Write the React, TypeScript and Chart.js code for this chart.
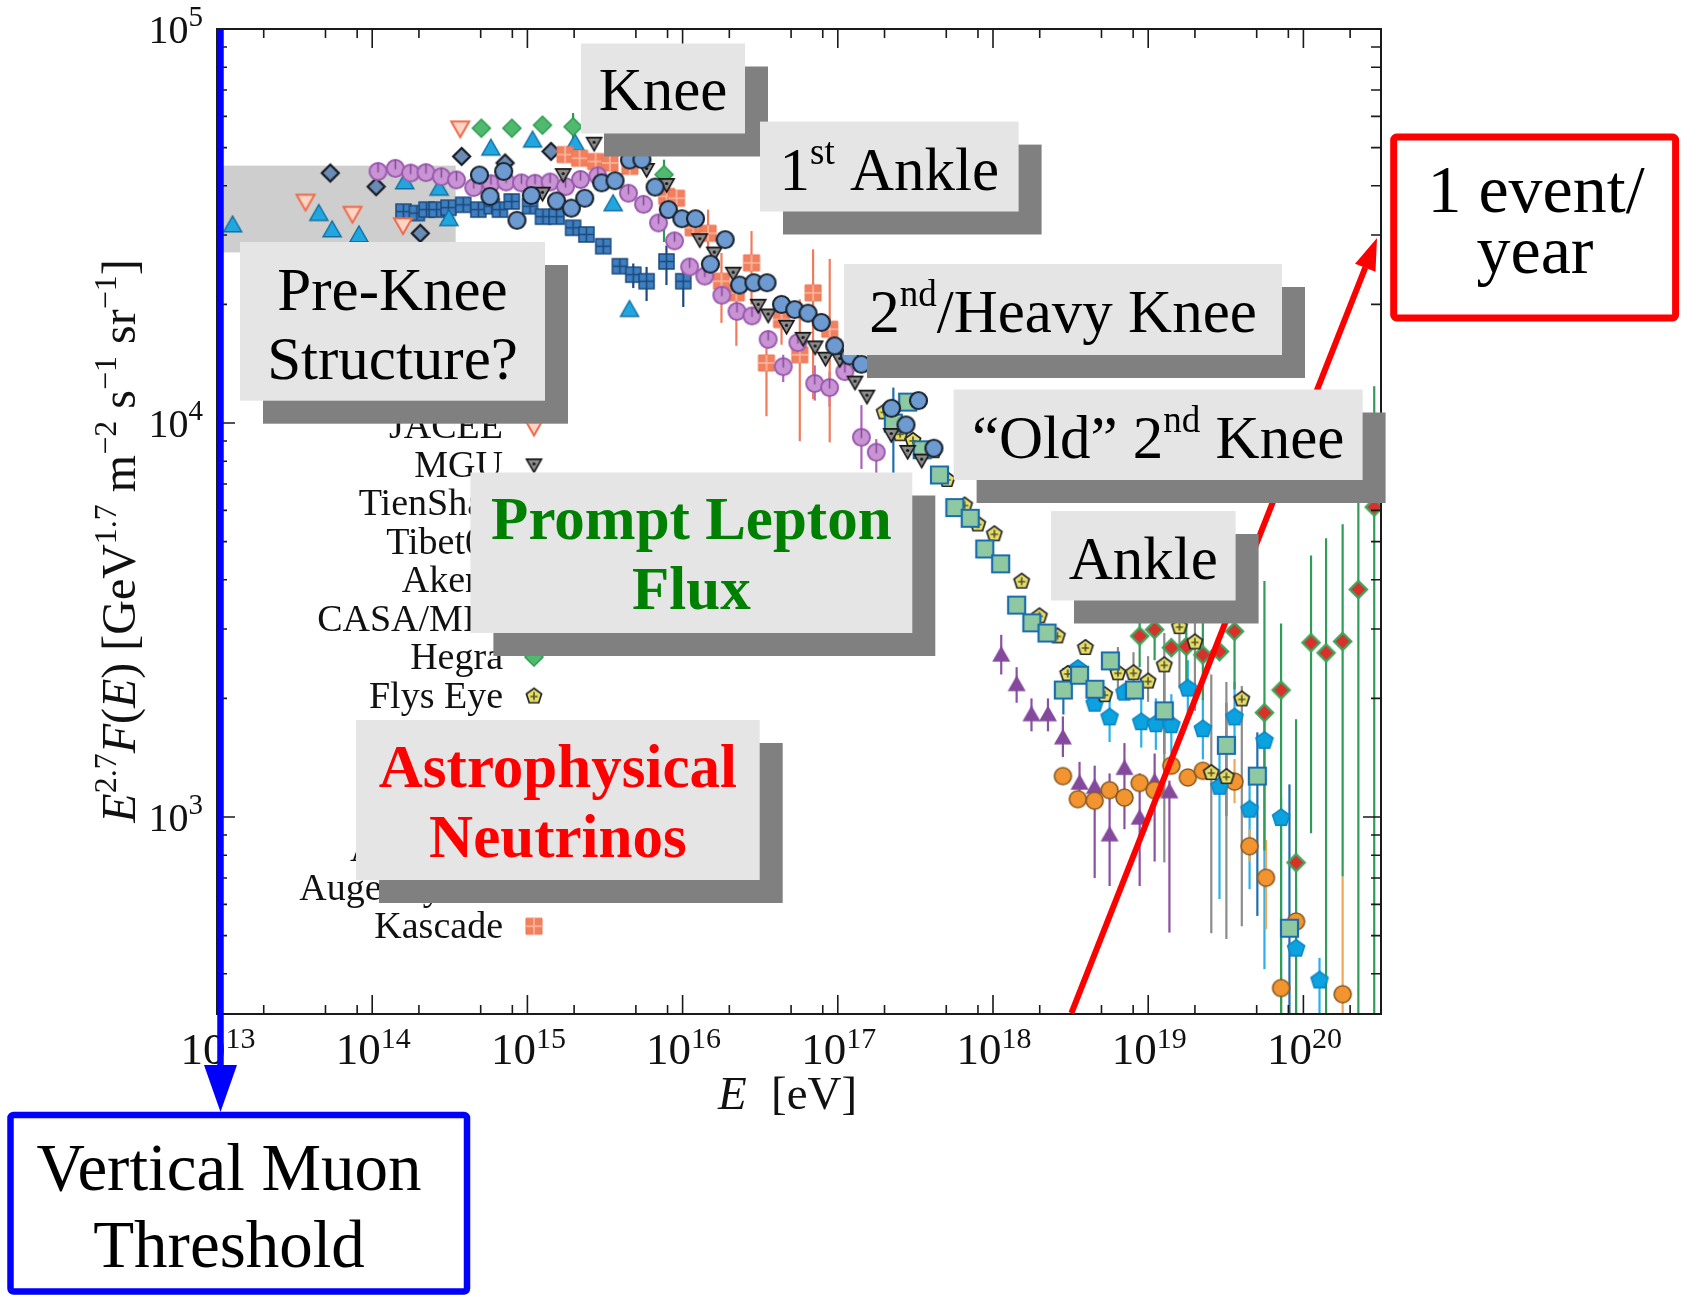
import React, { useEffect, useRef } from 'react';
import { Chart, registerables } from 'chart.js';

Chart.register(...registerables);

const WIDTH = 1689;
const HEIGHT = 1295;
const SERIF = '"Liberation Serif", "Times New Roman", serif';

// Axis ranges: E in eV, flux in GeV^1.7 m^-2 s^-1 sr^-1
const E_MIN = 1e13;
const E_MAX = 3.1623e20;
const F_MIN = 316.23;
const F_MAX = 1e5;
const X_DECADES = [13, 14, 15, 16, 17, 18, 19, 20];
const Y_DECADES = [3, 4, 5];

// Shaded pre-knee region and the 1 event/year guide
const BAND_E = [1e13, 3.45e14];
const BAND_F = [27100, 45000];
const GUIDE_E = [3.2e18, 2.98e20];
const GUIDE_F = [318, 29500];

// ---------------- measurements ----------------
const grigorovE = [1.26e13, 4.53e13, 5.52e13, 8.22e13, 1.62e14, 2.7e14, 3.12e14, 5.82e14, 1.08e15, 2.03e15, 3.57e15, 4.55e15];
const grigorovF = [31800, 34000, 30900, 30000, 40900, 39400, 33000, 49800, 52200, 51300, 36000, 19400];

const jaceeE = [3.72e13, 7.46e13, 1.58e14, 3.69e14];
const jaceeF = [36500, 34000, 31800, 56000];

const mguE = [1.25e15, 1.7e15, 2.69e15, 5.86e15, 7.89e15, 1.29e16, 1.6e16, 2.12e16, 3.07e16, 3.56e16, 4.67e16, 5.97e16, 7.14e16, 8.32e16, 1.03e17, 1.29e17, 1.54e17, 2.21e17, 2.82e17, 3.47e17];
const mguF = [38300, 42700, 51300, 44000, 40300, 29200, 27000, 24000, 19900, 18800, 17600, 16400, 15600, 14600, 14500, 12700, 11700, 9350, 8470, 8050];

const tienShanE = [4.91e14, 5.74e14, 7.03e14, 8.57e14, 1.06e15, 1.54e15, 1.92e15, 2.34e15, 3.01e15, 3.67e15, 4.55e15, 5.47e15, 6.65e15, 8.09e15, 9.89e15, 1.21e16, 1.51e16, 1.88e16, 2.33e16, 2.88e16, 3.5e16, 4.34e16, 5.28e16, 6.43e16, 7.83e16, 9.55e16, 1.19e17, 1.42e17, 2.22e17, 2.75e17, 3.31e17, 4.16e17];
const tienShanF = [42600, 37600, 43500, 32700, 37800, 36600, 35100, 37200, 40700, 41200, 46500, 46600, 39700, 34800, 33000, 33000, 25300, 29200, 22400, 22700, 22700, 20000, 19400, 19000, 18000, 15700, 14800, 14100, 10900, 9890, 11400, 8630];

const tibet07E = [1.09e14, 1.41e14, 1.77e14, 2.22e14, 2.79e14, 3.49e14, 4.51e14, 5.82e14, 7.29e14, 9.16e14, 1.12e15, 1.4e15, 1.76e15, 2.2e15, 2.84e15, 4.48e15, 5.6e15, 7.0e15, 8.87e15, 1.11e16, 1.39e16, 1.79e16, 2.24e16, 2.8e16, 3.56e16, 4.45e16, 5.53e16, 7.1e16, 8.85e16, 1.11e17, 1.42e17, 1.77e17];
const tibet07F = [43500, 44300, 43100, 43200, 42200, 41400, 39600, 40500, 40900, 40700, 40600, 40900, 39800, 41500, 42400, 38300, 35900, 32200, 29000, 24900, 23600, 21100, 19200, 18700, 16300, 13900, 16000, 12600, 12300, 13500, 9200, 8430];
const tibet07Err = [[4.45e16, 12700, 14900], [7.1e16, 11400, 14000], [8.85e16, 11000, 13500], [1.42e17, 7640, 11100], [1.77e17, 7000, 9100]];

const akenoE = [5.37e13, 1.06e14, 2.04e14, 3.77e14, 7.18e14, 1.42e15];
const akenoF = [43100, 39800, 30300, 47500, 45700, 48900];

const casaMiaE = [1.59e14, 1.94e14, 2.24e14, 2.6e14, 3.1e14, 3.86e14, 4.83e14, 5.89e14, 6.65e14, 7.93e14, 1.04e15, 1.26e15, 1.54e15, 1.97e15, 2.4e15, 3.08e15, 3.94e15, 4.81e15, 5.86e15, 7.87e15, 1.01e16];
const casaMiaF = [34400, 34100, 34800, 34800, 35200, 35800, 34800, 35500, 34800, 36500, 35500, 33400, 33400, 31300, 30100, 28100, 25000, 23800, 22900, 25700, 22900];
const casaMiaErr = [[4.81e15, 22000, 25400], [5.86e15, 20400, 24900], [7.87e15, 22400, 28200], [1.01e16, 19700, 24600]];

const hegraE = [5.05e14, 7.94e14, 1.25e15, 1.97e15, 7.59e15];
const hegraF = [56000, 56000, 57000, 56500, 42700];
const hegraErr = [[1.97e15, 52400, 61200], [7.59e15, 28800, 46600]];

const flysEyeE = [1.99e17, 2.52e17, 3.05e17, 4.16e17, 5.06e17, 6.56e17, 7.98e17, 1.02e18, 1.53e18, 1.99e18, 2.6e18, 3.03e18, 3.94e18, 5.24e18, 6.38e18, 8.04e18, 9.98e18, 1.27e19, 1.59e19, 2.0e19, 2.55e19, 3.19e19, 4.01e19];
const flysEyeF = [10700, 9420, 9060, 8530, 7210, 6210, 5560, 5250, 3980, 3250, 2890, 2320, 2700, 2050, 2330, 2330, 2220, 2440, 3050, 2790, 1300, 1270, 2000];
const flysEyeErr = [[6.38e18, 1990, 2700], [8.04e18, 1980, 2620], [9.98e18, 1960, 2560], [1.27e19, 767, 2930], [1.59e19, 2120, 3500], [2.0e19, 1860, 3490], [2.55e19, 507, 2300], [3.19e19, 490, 2200], [4.01e19, 528, 2150]];

const agasaE = [8.81e18, 1.1e19, 1.41e19, 1.76e19, 2.25e19, 2.88e19, 3.6e19, 5.61e19, 7.18e19, 8.97e19, 1.12e20, 1.4e20, 1.79e20, 2.26e20, 2.86e20];
const agasaF = [2880, 2990, 2690, 2710, 2580, 2630, 2960, 1840, 2100, 766, 2770, 2610, 2790, 3780, 6120];
const agasaErr = [[8.81e18, 2400, 3390], [1.1e19, 2500, 3500], [1.76e19, 2110, 3280], [2.25e19, 1980, 3180], [3.6e19, 2110, 3840], [5.61e19, 822, 3970], [7.18e19, 280, 3100], [8.97e19, 280, 1770], [1.12e20, 909, 4610], [1.4e20, 280, 5100], [1.79e20, 706, 5530], [2.26e20, 280, 7680], [2.86e20, 280, 12390]];

const hires1E = [3.52e18, 4.52e18, 5.64e18, 7.03e18, 9.02e18, 1.12e19, 1.41e19, 1.8e19, 2.25e19, 2.88e19, 3.6e19, 4.5e19, 5.61e19, 7.18e19, 8.97e19, 1.27e20];
const hires1F = [2390, 1950, 1800, 2080, 1750, 1730, 1720, 2130, 1680, 1200, 1800, 1050, 1570, 1000, 466, 387];
const hires1Err = [[5.64e18, 1550, 2050], [9.02e18, 1500, 2000], [1.12e19, 1480, 2000], [1.41e19, 1450, 2050], [1.8e19, 1800, 2500], [2.25e19, 1400, 2000], [2.88e19, 619, 1445], [3.6e19, 1500, 2200], [4.5e19, 656, 1239], [5.61e19, 411, 1754], [7.18e19, 280, 1125], [8.97e19, 280, 571], [1.27e20, 280, 439]];

const hires2E = [2.28e17, 2.82e17, 3.5e17, 4.52e17, 5.68e17, 7.13e17, 8.85e17, 1.12e18, 1.42e18, 1.78e18, 2.23e18, 2.84e18, 3.61e18, 4.54e18, 5.71e18, 8.15e18, 1.27e19, 3.19e19, 5.05e19, 8.13e19];
const hires2F = [10000, 11300, 8550, 7380, 6100, 5730, 4790, 4390, 3450, 3110, 2930, 2100, 2290, 2110, 2490, 2100, 1860, 1520, 1270, 522];
const hires2Err = [[2.28e17, 7430, 12300], [2.84e18, 1820, 2390], [1.27e19, 1445, 2370], [3.19e19, 1007, 1950], [5.05e19, 561, 1640], [8.13e19, 280, 1210]];

const augerSdE = [2.82e18, 3.52e18, 4.52e18, 5.64e18, 7.03e18, 8.81e18, 1.1e19, 1.41e19, 1.8e19, 2.25e19, 3.6e19, 4.5e19, 5.74e19, 7.18e19, 8.97e19, 1.79e20];
const augerSdF = [1270, 1110, 1100, 1170, 1120, 1220, 1170, 1350, 1260, 1310, 1230, 843, 701, 368, 543, 355];
const augerSdErr = [[3.6e19, 1084, 1403], [4.5e19, 771, 931], [5.74e19, 519, 875], [7.18e19, 280, 411], [8.97e19, 440, 660], [1.79e20, 280, 706]];

const augerHybridE = [1.13e18, 1.42e18, 1.77e18, 2.26e18, 2.82e18, 3.61e18, 4.52e18, 5.64e18, 7.03e18, 8.81e18, 1.1e19, 1.37e19];
const augerHybridF = [2580, 2170, 1820, 1820, 1590, 1220, 1190, 902, 1330, 995, 1230, 1160];
const augerHybridErr = [[1.13e18, 2300, 2900], [1.42e18, 1950, 2400], [1.77e18, 1650, 2000], [2.26e18, 1650, 2000], [2.82e18, 1420, 1800], [3.61e18, 1080, 1380], [4.52e18, 700, 1350], [5.64e18, 668, 1290], [7.03e18, 931, 1540], [8.81e18, 668, 1290], [1.1e19, 771, 1449], [1.37e19, 509, 1237]];

const kascadeE = [1.75e15, 2.17e15, 2.75e15, 3.4e15, 4.57e15, 7.89e15, 9.14e15, 1.17e16, 1.46e16, 1.78e16, 2.22e16, 2.78e16, 3.47e16, 4.34e16, 5.69e16, 6.93e16, 8.87e16];
const kascadeF = [48000, 47000, 46100, 45700, 44800, 37600, 37200, 31300, 30300, 22900, 21400, 25500, 14200, 18300, 14900, 21400, 17300];
const kascadeErr = [[1.46e16, 27500, 34800], [1.78e16, 17950, 27000], [2.22e16, 15700, 23500], [2.78e16, 20000, 30700], [3.47e16, 10400, 17000], [4.34e16, 15800, 20400], [5.69e16, 8990, 20600], [6.93e16, 11500, 27600], [8.87e16, 8930, 26100]];

const LEGEND_NAMES = ['Grigorov', 'JACEE', 'MGU', 'TienShan', 'Tibet07', 'Akeno', 'CASA/MIA', 'Hegra', 'Flys Eye', 'Agasa', 'HiRes 1', 'HiRes 2', 'Auger SD', 'Auger hybrid', 'Kascade'];

// ---------------- drawing helpers ----------------
type Run = { t: string; sup?: boolean; it?: boolean };

function drawRuns(ctx: CanvasRenderingContext2D, runs: Run[], x: number, y: number, size: number,
  align: string, color: string, bold = false, supScale = 0.62, supRaise = 0.4) {
  const fontFor = (r: Run) => `${r.it ? 'italic ' : ''}${bold ? 'bold ' : ''}${r.sup ? Math.round(size * supScale) : size}px ${SERIF}`;
  let total = 0;
  const widths = runs.map((r) => {
    ctx.font = fontFor(r);
    const w = ctx.measureText(r.t).width;
    total += w;
    return w;
  });
  let cx = align === 'center' ? x - total / 2 : align === 'right' ? x - total : x;
  ctx.fillStyle = color;
  ctx.textAlign = 'left';
  ctx.textBaseline = 'alphabetic';
  runs.forEach((r, i) => {
    ctx.font = fontFor(r);
    ctx.fillText(r.t, cx, r.sup ? y - size * supRaise : y);
    cx += widths[i];
  });
}

function makeMarker(kind: string, size: number, fill: string, stroke: string, lw: number, inner?: string, innerColor?: string) {
  const pad = Math.ceil(lw) + 2;
  const dim = Math.ceil(size + 2 * pad);
  const c = document.createElement('canvas');
  c.width = dim;
  c.height = dim;
  const g = c.getContext('2d') as CanvasRenderingContext2D;
  const m = dim / 2;
  const r = size / 2;
  g.beginPath();
  if (kind === 'circle') g.arc(m, m, r, 0, Math.PI * 2);
  if (kind === 'square') g.rect(m - r, m - r, size, size);
  if (kind === 'triUp') { g.moveTo(m, m - r); g.lineTo(m + r, m + r * 0.75); g.lineTo(m - r, m + r * 0.75); g.closePath(); }
  if (kind === 'triDown') { g.moveTo(m, m + r); g.lineTo(m + r, m - r * 0.75); g.lineTo(m - r, m - r * 0.75); g.closePath(); }
  if (kind === 'diamond') { g.moveTo(m, m - r); g.lineTo(m + r, m); g.lineTo(m, m + r); g.lineTo(m - r, m); g.closePath(); }
  if (kind === 'pentagon') {
    for (let k = 0; k < 5; k++) {
      const a = -Math.PI / 2 + (k * 2 * Math.PI) / 5;
      const px = m + r * Math.cos(a);
      const py = m + r * Math.sin(a) + r * 0.1;
      if (k === 0) g.moveTo(px, py); else g.lineTo(px, py);
    }
    g.closePath();
  }
  g.fillStyle = fill;
  g.fill();
  if (lw > 0) {
    g.strokeStyle = stroke;
    g.lineWidth = lw;
    g.stroke();
  }
  g.strokeStyle = innerColor || stroke;
  g.fillStyle = innerColor || stroke;
  g.lineWidth = 1.6;
  if (inner === 'tick') { g.beginPath(); g.moveTo(m, m - r); g.lineTo(m, m + 1); g.stroke(); }
  if (inner === 'cross') {
    g.beginPath(); g.moveTo(m, m - r); g.lineTo(m, m + r); g.moveTo(m - r, m); g.lineTo(m + r, m); g.stroke();
  }
  if (inner === 'dot') { g.beginPath(); g.arc(m, m - 1, 1.6, 0, Math.PI * 2); g.fill(); }
  if (inner === 'flys') {
    g.beginPath(); g.moveTo(m, m - r * 0.45); g.lineTo(m, m + r * 0.55); g.moveTo(m - r * 0.45, m + 1); g.lineTo(m + r * 0.45, m + 1); g.stroke();
  }
  return c;
}

// Labelled boxes with a drop shadow (pixel layout)
const SHADOW = 23;
const LABEL_BOXES = [
  { x0: 581, y0: 43.5, x1: 745, y1: 133.5, lines: [[{ t: 'Knee' }]], base: [110], color: '#000', bold: false },
  { x0: 760, y0: 121.6, x1: 1018.6, y1: 211.5, lines: [[{ t: '1' }, { t: 'st', sup: true }, { t: ' Ankle' }]], base: [189.5], color: '#000', bold: false },
  { x0: 240, y0: 242, x1: 545, y1: 400.7, lines: [[{ t: 'Pre-Knee' }], [{ t: 'Structure?' }]], base: [310, 379], color: '#000', bold: false },
  { x0: 844, y0: 264, x1: 1282, y1: 355, lines: [[{ t: '2' }, { t: 'nd', sup: true }, { t: '/Heavy Knee' }]], base: [331.5], color: '#000', bold: false },
  { x0: 953.6, y0: 389.5, x1: 1362.6, y1: 480, lines: [[{ t: '\u201COld\u201D 2' }, { t: 'nd', sup: true }, { t: ' Knee' }]], base: [457.5], color: '#000', bold: false },
  { x0: 1051, y0: 511, x1: 1235.6, y1: 600.5, lines: [[{ t: 'Ankle' }]], base: [578.5], color: '#000', bold: false },
  { x0: 470.4, y0: 472.5, x1: 912.3, y1: 633, lines: [[{ t: 'Prompt Lepton' }], [{ t: 'Flux' }]], base: [538.5, 608.5], color: '#008000', bold: true },
  { x0: 356, y0: 720, x1: 759.7, y1: 880, lines: [[{ t: 'Astrophysical' }], [{ t: 'Neutrinos' }]], base: [787, 856.5], color: '#ff0000', bold: true },
];

export default function App() {
  const ref = useRef<HTMLCanvasElement>(null);

  useEffect(() => {
    const canvas = ref.current;
    if (!canvas) return;

    const mk = {
      grigorov: makeMarker('triUp', 18, '#21a7df', '#136fa3', 1.5),
      jacee: makeMarker('triDown', 18, '#fcd5c6', '#f06a4a', 2),
      mgu: makeMarker('triDown', 15, '#8d8d8d', '#151515', 1.6, 'dot', '#151515'),
      tienShan: makeMarker('circle', 17, '#6d9bd1', '#1c2530', 2.2),
      tibet07: makeMarker('circle', 17, '#c994d4', '#9c5bb0', 2, 'tick', '#8a4a9e'),
      akeno: makeMarker('diamond', 17, '#6a8cb4', '#171b24', 2.2),
      casaMia: makeMarker('square', 15, '#3f7fbf', '#1b4a7e', 1.5, 'cross', '#1b4a7e'),
      hegra: makeMarker('diamond', 18, '#4fba6e', '#2f9a52', 1.5),
      flysEye: makeMarker('pentagon', 16, '#e6df6b', '#262626', 1.7, 'flys', '#5a5420'),
      agasa: makeMarker('diamond', 17, '#d8312c', '#3ea55c', 2.4),
      hires1: makeMarker('pentagon', 18, '#0aa2df', '#0c84c4', 1.5),
      hires2: makeMarker('square', 17, '#8fc9a2', '#1b6dad', 2.2),
      augerSd: makeMarker('circle', 17, '#f2942f', '#8a5a22', 1.6),
      augerHybrid: makeMarker('triUp', 18, '#84489c', '#84489c', 0),
      kascade: makeMarker('square', 16, '#f2805f', '#ef7453', 1, 'cross', '#f9b9a2'),
    };
    const legendMarkers = [mk.grigorov, mk.jacee, mk.mgu, mk.tienShan, mk.tibet07, mk.akeno, mk.casaMia, mk.hegra,
      mk.flysEye, mk.agasa, mk.hires1, mk.hires2, mk.augerSd, mk.augerHybrid, mk.kascade];

    // First entry is painted last (on top)
    const series = [
      { label: 'TienShan', E: tienShanE, F: tienShanF, m: mk.tienShan, err: null, ec: '' },
      { label: 'MGU', E: mguE, F: mguF, m: mk.mgu, err: null, ec: '' },
      { label: 'HiRes 2', E: hires2E, F: hires2F, m: mk.hires2, err: hires2Err, ec: '#1f6fad' },
      { label: 'Flys Eye', E: flysEyeE, F: flysEyeF, m: mk.flysEye, err: flysEyeErr, ec: '#8c8c8c' },
      { label: 'HiRes 1', E: hires1E, F: hires1F, m: mk.hires1, err: hires1Err, ec: '#2bb0ea' },
      { label: 'Auger SD', E: augerSdE, F: augerSdF, m: mk.augerSd, err: augerSdErr, ec: '#f0a75a' },
      { label: 'Agasa', E: agasaE, F: agasaF, m: mk.agasa, err: agasaErr, ec: '#2f9d58' },
      { label: 'Auger hybrid', E: augerHybridE, F: augerHybridF, m: mk.augerHybrid, err: augerHybridErr, ec: '#8a50a2' },
      { label: 'Tibet07', E: tibet07E, F: tibet07F, m: mk.tibet07, err: tibet07Err, ec: '#a866b9' },
      { label: 'Kascade', E: kascadeE, F: kascadeF, m: mk.kascade, err: kascadeErr, ec: '#ef7d5d' },
      { label: 'Hegra', E: hegraE, F: hegraF, m: mk.hegra, err: hegraErr, ec: '#2f9a52' },
      { label: 'Grigorov', E: grigorovE, F: grigorovF, m: mk.grigorov, err: null, ec: '' },
      { label: 'Akeno', E: akenoE, F: akenoF, m: mk.akeno, err: null, ec: '' },
      { label: 'JACEE', E: jaceeE, F: jaceeF, m: mk.jacee, err: null, ec: '' },
      { label: 'CASA/MIA', E: casaMiaE, F: casaMiaF, m: mk.casaMia, err: casaMiaErr, ec: '#1b4a7e' },
    ];

    const datasets: any[] = series.map((s) => ({
      label: s.label,
      data: s.E.map((e, i) => ({ x: e, y: s.F[i] })),
      pointStyle: s.m,
      pointRadius: 8,
      showLine: false,
      errBars: s.err,
      errColor: s.ec,
    }));

    const overlay = {
      id: 'overlay',
      beforeDatasetsDraw(chart: any) {
        const { ctx, chartArea: a } = chart;
        const x = chart.scales.x;
        const y = chart.scales.y;
        ctx.save();
        ctx.beginPath();
        ctx.rect(a.left, a.top, a.right - a.left, a.bottom - a.top);
        ctx.clip();
        // shaded band
        const bx0 = x.getPixelForValue(BAND_E[0]);
        const bx1 = x.getPixelForValue(BAND_E[1]);
        const by0 = y.getPixelForValue(BAND_F[1]);
        const by1 = y.getPixelForValue(BAND_F[0]);
        ctx.fillStyle = '#cecece';
        ctx.fillRect(bx0, by0, bx1 - bx0, by1 - by0);
        // error bars
        chart.data.datasets.forEach((ds: any) => {
          if (!ds.errBars) return;
          ctx.strokeStyle = ds.errColor;
          ctx.lineWidth = 2.2;
          ds.errBars.forEach((b: number[]) => {
            const px = x.getPixelForValue(b[0]);
            ctx.beginPath();
            ctx.moveTo(px, y.getPixelForValue(b[1]));
            ctx.lineTo(px, y.getPixelForValue(b[2]));
            ctx.stroke();
          });
        });
        ctx.restore();
      },
      afterDatasetsDraw(chart: any) {
        const { ctx, chartArea: a } = chart;
        const x = chart.scales.x;
        const y = chart.scales.y;
        ctx.save();

        // frame
        ctx.strokeStyle = '#1a1a1a';
        ctx.lineWidth = 2;
        ctx.strokeRect(a.left, a.top, a.right - a.left, a.bottom - a.top);

        // ticks
        ctx.lineWidth = 1.6;
        ctx.beginPath();
        X_DECADES.forEach((n) => {
          [1, 2, 5, 8].forEach((mult) => {
            const v = mult * Math.pow(10, n);
            if (v <= E_MIN || v >= E_MAX) return;
            const px = x.getPixelForValue(v);
            const len = mult === 1 ? 19 : 9;
            ctx.moveTo(px, a.bottom); ctx.lineTo(px, a.bottom - len);
            ctx.moveTo(px, a.top); ctx.lineTo(px, a.top + len);
          });
        });
        [2, 3, 4].forEach((n) => {
          for (let mult = 1; mult <= 9; mult++) {
            const v = mult * Math.pow(10, n);
            if (v <= F_MIN || v >= F_MAX) continue;
            const py = y.getPixelForValue(v);
            const len = mult === 1 ? 18 : 10;
            ctx.moveTo(a.left, py); ctx.lineTo(a.left + len, py);
            ctx.moveTo(a.right, py); ctx.lineTo(a.right - len, py);
          }
        });
        ctx.stroke();

        // tick labels
        X_DECADES.forEach((n) => {
          const px = x.getPixelForValue(Math.pow(10, n));
          drawRuns(ctx, [{ t: '10' }, { t: String(n), sup: true }], px + 1, 1064, 45, 'center', '#111', false, 0.67, 0.35);
        });
        Y_DECADES.forEach((n) => {
          const py = y.getPixelForValue(Math.pow(10, n));
          drawRuns(ctx, [{ t: '10' }, { t: String(n), sup: true }], 203, py + 14, 40, 'right', '#111', false, 0.72, 0.42);
        });

        // axis titles
        drawRuns(ctx, [{ t: 'E', it: true }], 718, 1109, 47, 'left', '#111');
        drawRuns(ctx, [{ t: '[eV]' }], 771, 1109, 47, 'left', '#111');
        ctx.save();
        ctx.translate(135, 541);
        ctx.rotate(-Math.PI / 2);
        drawRuns(ctx, [
          { t: 'E', it: true }, { t: '2.7', sup: true }, { t: 'F', it: true }, { t: '(' }, { t: 'E', it: true }, { t: ')' },
          { t: ' [GeV' }, { t: '1.7', sup: true }, { t: ' m' }, { t: '\u22122', sup: true }, { t: ' s' }, { t: '\u22121', sup: true },
          { t: ' sr' }, { t: '\u22121', sup: true }, { t: ']' },
        ], 0, 0, 48, 'center', '#111', false, 0.66, 0.4);
        ctx.restore();

        // legend column
        LEGEND_NAMES.forEach((name, i) => {
          const base = 438.4 + 38.45 * (i - 1);
          drawRuns(ctx, [{ t: name }], 503, base, 38, 'right', '#111');
          const mcv = legendMarkers[i];
          ctx.drawImage(mcv, 534 - mcv.width / 2, base - 12 - mcv.height / 2);
        });

        // 1 event/year guide with arrow head
        const gx0 = x.getPixelForValue(GUIDE_E[0]);
        const gy0 = y.getPixelForValue(GUIDE_F[0]);
        const gx1 = x.getPixelForValue(GUIDE_E[1]);
        const gy1 = y.getPixelForValue(GUIDE_F[1]);
        const ang = Math.atan2(gy1 - gy0, gx1 - gx0);
        const headLen = 32;
        const headW = 11;
        const bx = gx1 - headLen * Math.cos(ang);
        const by = gy1 - headLen * Math.sin(ang);
        ctx.strokeStyle = '#ff0000';
        ctx.fillStyle = '#ff0000';
        ctx.lineWidth = 6;
        ctx.lineCap = 'butt';
        ctx.beginPath();
        ctx.moveTo(gx0, gy0);
        ctx.lineTo(bx, by);
        ctx.stroke();
        ctx.beginPath();
        ctx.moveTo(gx1, gy1);
        ctx.lineTo(bx + headW * Math.sin(ang), by - headW * Math.cos(ang));
        ctx.lineTo(bx - headW * Math.sin(ang), by + headW * Math.cos(ang));
        ctx.closePath();
        ctx.fill();

        // labelled boxes
        LABEL_BOXES.forEach((b) => {
          ctx.fillStyle = '#808080';
          ctx.fillRect(b.x0 + SHADOW, b.y0 + SHADOW, b.x1 - b.x0, b.y1 - b.y0);
          ctx.fillStyle = '#e5e5e5';
          ctx.fillRect(b.x0, b.y0, b.x1 - b.x0, b.y1 - b.y0);
          const cx = (b.x0 + b.x1) / 2;
          b.lines.forEach((ln: Run[], i: number) => {
            drawRuns(ctx, ln, cx, b.base[i], 61, 'center', b.color, b.bold, 0.6, 0.42);
          });
        });

        // vertical muon threshold arrow
        const ax = 220.5;
        ctx.strokeStyle = '#0000ff';
        ctx.fillStyle = '#0000ff';
        ctx.lineWidth = 6.5;
        ctx.beginPath();
        ctx.moveTo(ax, a.top);
        ctx.lineTo(ax, 1068);
        ctx.stroke();
        ctx.beginPath();
        ctx.moveTo(ax - 16.5, 1065);
        ctx.lineTo(ax + 16.5, 1065);
        ctx.lineTo(ax, 1112);
        ctx.closePath();
        ctx.fill();

        // threshold box
        ctx.lineWidth = 6.5;
        ctx.strokeStyle = '#0000ff';
        ctx.beginPath();
        ctx.roundRect(10.5, 1115, 456.5, 176.5, 3);
        ctx.stroke();
        drawRuns(ctx, [{ t: 'Vertical Muon' }], 229, 1190, 67, 'center', '#000');
        drawRuns(ctx, [{ t: 'Threshold' }], 229, 1267, 67, 'center', '#000');

        // event-rate box
        ctx.lineWidth = 7;
        ctx.strokeStyle = '#ff0000';
        ctx.beginPath();
        ctx.roundRect(1393.7, 137, 281.9, 181, 3);
        ctx.stroke();
        drawRuns(ctx, [{ t: '1 event/' }], 1536, 212, 68, 'center', '#000');
        drawRuns(ctx, [{ t: 'year' }], 1535, 273, 68, 'center', '#000');

        ctx.restore();
      },
    };

    const chart = new Chart(canvas, {
      type: 'scatter',
      data: { datasets },
      options: {
        responsive: false,
        animation: false,
        events: [],
        layout: { padding: { left: 217, top: 29, right: WIDTH - 1381, bottom: HEIGHT - 1014 } },
        scales: {
          x: { type: 'logarithmic', min: E_MIN, max: E_MAX, bounds: 'data', display: false },
          y: { type: 'logarithmic', min: F_MIN, max: F_MAX, bounds: 'data', display: false },
        },
        plugins: { legend: { display: false }, tooltip: { enabled: false } },
      },
      plugins: [overlay],
    } as any);

    return () => chart.destroy();
  }, []);

  return (
    <div style={{ position: 'absolute', left: 0, top: 0, width: WIDTH, height: HEIGHT, background: '#ffffff' }}>
      <canvas ref={ref} width={WIDTH} height={HEIGHT} style={{ display: 'block', width: WIDTH, height: HEIGHT }} />
    </div>
  );
}
